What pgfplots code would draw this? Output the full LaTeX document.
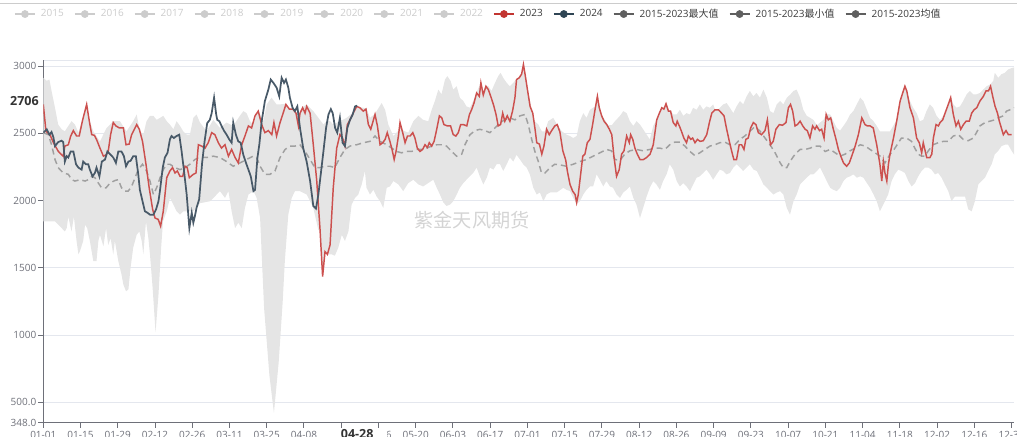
\documentclass[border=0pt]{standalone}
\usepackage{pgfplots}
\pgfplotsset{compat=1.18}
\usepackage{pgfplotstable}
\usepgfplotslibrary{fillbetween}
\usepackage{fontspec}
\setmainfont{Open Sans}
\newfontfamily\cjk{Noto Sans CJK SC}

\definecolor{red23}{RGB}{204,80,78}
\definecolor{dark24}{RGB}{72,89,104}
\definecolor{bandgray}{RGB}{229,229,229}
\definecolor{meangray}{RGB}{160,160,160}
\definecolor{axisgray}{RGB}{110,112,121}
\definecolor{gridgray}{RGB}{228,231,238}
\definecolor{inact}{RGB}{204,204,204}
\definecolor{legtext}{RGB}{60,60,60}
\definecolor{leggray}{RGB}{95,95,95}
\definecolor{leg23}{RGB}{194,53,49}
\definecolor{leg24}{RGB}{47,69,84}
\definecolor{wmark}{RGB}{212,212,212}
\definecolor{ptr}{RGB}{51,51,51}

\pgfplotstableread{
x y
0 2715
1.0 2515
2.5 2490
3.8 2430
5.6 2367
6.9 2340
7.5 2330
8.1 2405
9.4 2415
10.3 2480
11.3 2520
12.5 2480
13.5 2480
14.8 2600
16.3 2715
17.3 2590
18.2 2490
19.2 2485
20.0 2455
21.3 2390
22.6 2330
23.6 2340
24.4 2365
25.3 2490
26.3 2580
27.3 2555
28.6 2540
30.1 2540
31.1 2415
32.3 2420
33.2 2490
35.1 2565
36.1 2530
37.3 2440
38.6 2270
39.8 2095
41.1 1935
42.0 1870
43.2 1860
44.1 1810
45.1 1920
46.4 2170
47.6 2220
48.6 2245
49.5 2205
50.4 2220
51.4 2180
52.4 2180
53.3 2255
54.1 2245
54.9 2170
56.4 2195
57.4 2205
58.3 2415
59.5 2405
60.8 2390
62.0 2430
63.3 2505
64.5 2490
65.8 2430
67.0 2390
68.3 2415
69.6 2330
70.8 2380
72.1 2320
73.3 2280
74.6 2415
75.8 2480
77.1 2555
78.3 2540
79.6 2630
80.8 2665
82.1 2565
83.3 2505
84.6 2520
85.9 2490
86.7 2580
87.7 2480
89.0 2580
90.0 2640
91.2 2715
92.5 2680
93.8 2680
95.0 2650
95.9 2555
96.5 2650
97.5 2690
98.4 2650
99.0 2700
100.3 2650
101.5 2415
102.8 2145
104.0 1795
105.0 1435
105.9 1620
106.8 1600
107.8 1670
109.0 2095
110.3 2390
111.5 2490
112.5 2465
113.4 2405
114.3 2565
115.3 2600
116.5 2650
117.8 2700
119.0 2690
120.3 2665
121.3 2680
122.2 2565
123.1 2530
124.7 2640
125.6 2555
126.6 2415
127.6 2430
128.5 2455
129.3 2505
130.3 2440
131.1 2380
131.9 2305
132.6 2365
133.5 2480
134.1 2580
135.1 2505
136.0 2430
136.9 2480
137.9 2480
138.9 2505
139.7 2465
140.6 2390
141.6 2365
142.6 2380
143.5 2415
144.4 2395
145.1 2430
146.0 2405
146.9 2440
147.9 2530
148.9 2630
149.8 2615
150.6 2565
151.9 2555
153.1 2555
154.1 2490
155.1 2480
156.0 2505
156.9 2565
157.9 2565
159.2 2555
160.2 2640
161.0 2675
161.9 2725
162.9 2800
163.9 2775
164.5 2875
165.4 2785
166.4 2850
167.3 2825
168.2 2775
169.2 2715
170.2 2640
171.0 2555
171.9 2565
172.7 2650
173.5 2590
174.4 2630
175.4 2590
176.4 2665
177.3 2765
177.9 2900
178.9 2913
179.8 2940
180.5 3012
181.1 2940
182.0 2825
183.0 2700
184.0 2650
184.8 2540
185.5 2430
186.5 2420
187.4 2345
188.2 2405
189.2 2530
190.2 2490
191.1 2520
192.3 2555
193.2 2565
194.2 2510
195.3 2370
196.4 2300
197.0 2220
198.0 2120
199.0 2070
199.9 2045
200.5 1985
201.1 2045
202.0 2195
202.8 2330
203.6 2345
204.5 2430
205.5 2455
206.5 2565
207.4 2675
208.3 2775
209.0 2690
209.9 2630
210.8 2590
211.8 2565
212.8 2530
213.7 2490
214.5 2330
215.5 2180
216.5 2230
217.4 2345
218.3 2370
219.3 2480
220.3 2430
220.8 2490
221.6 2455
222.4 2390
223.3 2345
224.3 2305
225.6 2305
226.8 2320
228.1 2345
229.3 2415
230.6 2600
231.6 2650
232.5 2690
233.3 2680
234.1 2720
235.0 2665
235.8 2665
236.8 2580
237.8 2555
238.3 2590
239.1 2555
239.9 2515
240.8 2465
241.8 2430
242.5 2480
243.4 2455
244.1 2465
245.0 2430
245.9 2455
246.9 2440
248.1 2445
249.4 2490
250.4 2580
251.3 2650
252.5 2675
253.8 2675
255.0 2650
255.9 2630
256.9 2530
257.9 2440
258.8 2365
259.6 2305
260.6 2305
261.6 2415
262.5 2415
263.4 2380
264.1 2455
265.0 2465
265.9 2540
266.9 2580
267.9 2565
268.8 2505
270.0 2490
271.3 2520
272.2 2600
272.9 2480
273.4 2415
274.4 2440
275.4 2530
276.7 2565
277.9 2560
279.2 2580
280.1 2690
280.9 2715
281.7 2665
282.6 2555
283.5 2565
284.5 2590
285.5 2555
286.4 2530
287.2 2520
288.2 2465
289.2 2555
290.1 2530
290.7 2555
291.8 2520
292.6 2530
293.5 2465
294.3 2640
295.1 2600
296.0 2615
297.0 2530
298.0 2455
298.9 2380
299.8 2330
300.8 2280
302.0 2255
303.0 2280
303.9 2330
305.2 2405
306.4 2490
307.7 2615
308.9 2565
309.8 2555
310.8 2555
312.0 2540
313.3 2415
314.5 2270
315.2 2145
315.8 2290
316.4 2205
317.1 2145
317.7 2270
318.3 2345
319.6 2465
320.8 2590
322.1 2740
323.3 2815
323.9 2850
324.6 2815
325.8 2690
327.1 2615
328.3 2465
329.3 2430
330.2 2355
330.8 2430
331.5 2370
332.1 2320
333.3 2320
334.0 2345
334.6 2465
335.6 2565
336.5 2555
337.1 2580
338.1 2600
339.0 2650
340.2 2715
341.1 2765
342.1 2640
343.1 2555
344.0 2590
344.9 2530
345.9 2565
346.9 2590
348.1 2590
349.0 2650
349.9 2675
350.9 2690
352.1 2740
353.4 2775
354.4 2815
355.3 2815
356.1 2850
356.9 2775
357.8 2700
358.7 2650
359.4 2590
360.3 2530
360.9 2490
361.9 2520
362.8 2490
364.0 2490
}\yrA

\pgfplotstableread{
x y
0 2505
1.3 2530
2.3 2490
3.1 2510
3.8 2470
4.4 2405
5.6 2435
6.9 2445
7.5 2435
8.1 2290
8.8 2330
9.4 2320
10.3 2365
11.3 2365
12.3 2270
13.2 2245
14.4 2230
15.0 2290
16.0 2270
16.9 2270
17.5 2230
18.5 2180
19.4 2205
20.0 2245
21.1 2180
22.0 2290
23.2 2305
24.1 2365
25.1 2345
26.3 2320
27.3 2280
28.2 2365
29.4 2365
30.3 2330
31.1 2255
32.0 2290
32.8 2295
33.8 2330
34.8 2330
35.7 2195
36.3 2080
37.3 1995
38.2 1920
39.1 1910
40.1 1895
41.4 1895
42.4 1935
43.3 1995
43.9 2080
44.9 2245
45.7 2320
46.7 2355
47.6 2455
48.2 2480
49.1 2465
50.1 2480
51.1 2490
52.0 2365
52.9 2220
53.9 2045
54.9 1795
55.8 1910
56.4 1835
57.0 1885
57.6 1945
58.6 2010
59.7 2280
60.6 2435
61.6 2575
62.6 2600
63.3 2650
64.2 2765
65.0 2640
65.4 2600
66.2 2590
67.0 2555
67.9 2520
68.9 2490
69.9 2455
70.8 2430
71.4 2580
72.4 2490
73.3 2440
74.2 2430
75.2 2340
76.2 2280
77.1 2230
78.0 2180
79.0 2070
79.6 2080
80.5 2320
81.2 2415
82.1 2590
83.3 2740
84.6 2825
85.5 2900
86.5 2875
87.7 2840
88.7 2775
89.6 2913
90.5 2875
91.2 2900
92.1 2840
92.7 2765
93.7 2690
94.6 2665
95.5 2700
96.5 2540
97.7 2390
99.0 2290
100.3 2145
101.5 1960
102.5 1940
103.4 2045
104.3 2195
105.3 2365
106.3 2540
107.2 2640
108.1 2680
108.8 2650
109.7 2540
110.5 2505
111.5 2615
112.5 2430
113.4 2405
114.3 2540
115.3 2600
116.3 2640
117.2 2700
118 2706
}\yrB

\pgfplotstableread{
x y
0 2913
1.3 2890
2.3 2900
3.1 2815
4.4 2690
5.6 2565
6.9 2530
8.1 2515
9.4 2555
10.6 2590
11.9 2565
13.2 2505
14.8 2610
16.3 2720
17.3 2600
18.8 2515
21.3 2440
23.8 2540
26.3 2590
28.8 2590
31.3 2515
33.8 2590
35.1 2640
36.3 2515
37.6 2490
38.8 2590
40.1 2630
41.4 2630
42.6 2600
43.9 2615
45.1 2630
46.4 2590
47.6 2565
48.9 2530
50.1 2590
51.4 2555
52.6 2515
53.9 2490
55.1 2490
56.4 2615
57.6 2640
58.9 2580
61.4 2515
63.9 2600
66.4 2540
68.9 2580
71.4 2555
73.9 2630
75.2 2665
76.4 2650
77.7 2590
78.9 2565
80.8 2675
82.7 2590
84.0 2715
85.8 2765
87.7 2715
89.0 2715
91.2 2720
92.5 2690
95.0 2660
96.5 2650
97.5 2695
99.0 2715
101.5 2665
104.0 2600
105.3 2565
106.5 2590
107.8 2590
109.0 2565
111.5 2590
114.0 2615
116.5 2655
117.8 2705
119.0 2695
121.5 2685
122.8 2615
124.7 2645
125.3 2665
127.2 2725
128.5 2675
129.7 2565
131.6 2480
133.5 2520
134.1 2585
135.3 2520
137.2 2505
139.1 2590
141.0 2630
142.8 2600
144.7 2590
146.0 2675
147.2 2740
148.5 2825
149.7 2790
151.0 2900
151.9 2925
153.1 2890
154.1 2825
155.4 2850
156.6 2765
157.9 2740
159.1 2700
160.4 2690
161.6 2740
162.9 2805
164.5 2880
165.4 2815
166.4 2855
167.3 2850
168.5 2815
169.8 2875
171.0 2925
171.9 2950
172.9 2913
174.2 2875
175.4 2850
176.7 2875
177.9 2905
178.9 2918
179.8 2945
180.5 3017
181.1 2945
182.3 2815
183.6 2675
184.8 2590
186.1 2565
187.4 2515
188.6 2515
189.8 2590
191.7 2615
193.0 2570
194.9 2515
196.7 2490
198.0 2480
199.2 2465
200.5 2480
201.7 2590
203.0 2650
204.2 2615
205.5 2675
207.4 2700
208.3 2780
209.9 2635
211.1 2600
212.4 2560
213.7 2560
214.9 2590
216.8 2630
218.0 2665
219.3 2650
220.5 2590
221.8 2555
223.0 2590
224.3 2565
225.5 2530
226.8 2490
228.0 2455
229.3 2555
230.6 2605
231.6 2655
232.5 2695
233.3 2690
234.1 2725
235.0 2670
235.8 2670
236.8 2640
238.1 2640
239.3 2675
240.6 2630
241.8 2650
243.1 2640
244.3 2690
245.6 2675
246.8 2715
248.1 2675
249.3 2700
250.6 2690
251.8 2715
252.5 2680
253.8 2680
255.6 2715
256.9 2725
258.1 2690
259.4 2650
260.6 2700
261.9 2740
263.1 2715
264.4 2775
265.6 2815
266.9 2775
268.1 2800
269.4 2765
270.7 2825
272.0 2765
273.2 2665
274.5 2650
275.7 2715
277.0 2740
278.2 2715
279.5 2765
280.9 2790
282.0 2815
283.2 2825
284.5 2765
285.7 2675
287.0 2630
288.3 2615
289.5 2600
290.8 2560
292.0 2580
293.3 2600
294.3 2645
295.8 2640
297.0 2590
298.3 2540
299.5 2520
300.8 2555
302.0 2590
303.3 2640
304.5 2665
305.8 2715
307.1 2765
308.3 2740
309.6 2675
310.8 2615
312.1 2590
313.3 2555
314.5 2515
316.4 2515
318.3 2515
319.5 2555
320.8 2600
322.1 2745
323.9 2855
325.8 2740
327.0 2690
328.3 2650
329.5 2590
330.8 2600
332.0 2665
333.3 2715
334.5 2690
335.8 2630
337.1 2600
338.3 2630
339.6 2675
341.1 2770
342.1 2715
343.3 2690
344.6 2700
345.8 2740
347.1 2790
348.3 2815
349.6 2790
350.8 2790
352.1 2800
353.3 2825
354.6 2850
356.1 2865
357.1 2890
357.7 2950
359.0 2913
360.2 2940
361.5 2950
362.7 2975
364.0 2985
365 2990
}\bandmax

\pgfplotstableread{
x y
0 1845
2.5 1845
4.4 1845
6.9 1795
8.1 1770
8.8 1795
9.4 1880
10.6 1770
11.5 1880
12.5 1700
13.2 1600
13.8 1625
15.0 1700
15.7 1820
16.5 1795
17.5 1700
18.8 1550
20.0 1550
20.7 1700
21.3 1745
22.6 1660
23.6 1795
24.4 1670
25.3 1720
26.3 1600
26.9 1700
28.2 1550
29.4 1450
30.1 1375
31.1 1325
32.0 1340
32.8 1500
33.8 1650
35.1 1745
36.1 1770
37.0 1700
37.6 1600
38.6 1845
39.5 1720
40.1 1600
41.1 1350
42.2 1020
43.3 1300
44.3 1650
45.0 1845
46.4 1920
47.6 2020
48.9 1970
50.1 1920
51.4 1895
52.6 1920
53.9 1920
55.1 1920
56.4 1920
57.6 1945
58.9 1980
62.7 1995
65.2 2045
66.4 2070
68.3 2020
69.6 2070
70.8 1920
72.1 1795
73.3 1835
74.6 1795
75.8 1945
77.1 2045
79.0 2070
80.2 2020
81.5 1870
82.1 1600
83.0 1200
85.0 700
86.7 420
88.5 800
90.0 1250
90.8 1550
92.1 1895
93.4 2020
94.6 2070
96.5 2070
99.0 2045
100.3 1995
101.5 1945
103.4 1780
104.0 1780
105.0 1430
105.9 1610
107.1 1600
108.4 1600
109.6 1590
110.9 1650
112.2 1745
113.4 1700
114.7 1770
115.9 1970
117.2 2020
118.4 2045
119.7 2120
120.9 2220
121.5 2095
122.8 2045
124.1 2080
125.3 2030
126.6 1995
127.8 1945
129.1 2095
130.3 2105
131.6 2145
133.5 2120
135.3 2070
137.2 2130
139.1 2155
141.0 2120
142.8 2105
144.7 2130
146.6 2155
147.9 2095
149.1 2045
150.4 1985
151.6 1960
152.9 1970
154.1 1995
155.4 2045
156.6 2095
157.9 2130
159.8 2170
161.6 2205
162.9 2245
164.1 2180
165.4 2120
166.7 2170
167.9 2245
169.2 2230
170.4 2270
171.7 2270
172.9 2220
174.2 2270
175.4 2320
176.7 2290
177.9 2340
179.2 2305
180.4 2270
181.7 2245
182.9 2195
184.2 2095
185.5 2045
186.7 2060
188.0 1995
189.2 2045
190.5 2060
193.0 2060
195.5 2095
196.7 2080
198.0 2070
199.2 2020
200.5 1975
201.7 1995
203.0 2045
204.2 2080
205.5 2105
206.7 2105
208.0 2195
209.2 2155
210.5 2105
211.7 2145
213.0 2105
214.2 2095
215.5 2045
216.8 2020
218.0 2060
219.3 2080
220.5 2105
221.8 2020
223.0 1970
224.3 1870
225.5 1945
226.8 2030
228.0 2095
229.3 2145
230.5 2120
231.8 2080
233.0 2145
234.3 2195
235.5 2270
236.8 2230
238.1 2145
239.3 2105
240.6 2130
241.8 2105
243.1 2070
244.3 2120
245.6 2170
246.8 2180
248.1 2205
249.3 2230
250.6 2195
251.8 2155
253.1 2195
254.3 2230
255.6 2220
256.8 2195
258.1 2205
259.4 2245
260.6 2270
261.9 2245
263.1 2220
264.4 2245
265.6 2270
267.0 2230
268.2 2220
269.5 2170
270.7 2120
272.0 2095
273.2 2070
274.5 2045
275.7 2060
277.0 2070
278.2 2045
279.5 1945
280.7 1895
282.0 1995
283.2 2045
284.5 2120
285.7 2145
287.0 2170
288.3 2195
289.5 2195
290.8 2220
292.0 2245
293.3 2195
294.5 2145
295.8 2095
297.0 2080
298.3 2070
299.5 2095
300.8 2145
302.0 2170
303.3 2180
304.5 2195
305.8 2170
307.1 2180
308.3 2170
309.6 2130
310.8 2095
312.1 2045
313.3 1995
314.5 1920
316.4 1995
317.6 2045
318.9 2145
320.1 2195
321.4 2230
322.6 2220
323.9 2205
325.2 2145
326.4 2105
327.7 2130
328.9 2180
330.2 2220
331.4 2245
332.7 2245
333.9 2230
335.2 2195
336.4 2205
337.7 2170
338.9 2120
340.2 2070
341.4 1995
342.7 2030
343.9 2030
345.2 2030
346.5 2030
347.7 1935
349.0 1920
350.2 1995
351.5 2120
352.7 2145
354.0 2170
355.2 2220
356.5 2270
357.7 2345
359.0 2370
360.2 2405
361.5 2415
362.7 2415
364.0 2370
365 2340
}\bandmin

\pgfplotstableread{
x y
0 2505
1.9 2490
3.1 2415
4.4 2305
5.6 2245
7.5 2205
9.4 2195
10.7 2155
11.9 2145
13.8 2155
15.7 2145
16.9 2155
18.2 2180
19.4 2170
20.7 2130
21.9 2095
23.6 2095
25.1 2130
27.0 2150
28.2 2155
29.4 2095
30.7 2070
31.9 2070
33.2 2105
34.5 2170
35.7 2230
37.3 2270
38.8 2220
40.1 2145
41.4 2045
42.6 2095
43.9 2170
45.1 2230
46.4 2270
47.6 2270
49.5 2245
51.4 2230
53.3 2245
55.1 2270
57.0 2305
58.9 2325
61.4 2320
63.9 2330
66.4 2320
68.9 2290
71.4 2255
73.9 2280
76.4 2305
78.9 2330
80.2 2320
81.5 2255
83.3 2195
85.2 2195
87.1 2220
89.0 2320
90.9 2380
92.7 2405
94.6 2405
96.5 2415
98.4 2365
100.3 2305
102.1 2245
104.0 2245
105.9 2255
107.8 2255
109.6 2245
111.5 2320
113.4 2380
115.3 2405
117.8 2415
120.3 2430
122.8 2440
124.7 2480
126.6 2440
129.1 2415
131.0 2390
132.8 2365
134.7 2355
136.6 2365
138.5 2365
140.3 2380
142.2 2380
144.1 2390
146.0 2405
147.9 2415
149.7 2415
151.6 2405
153.5 2365
155.4 2330
157.3 2345
158.5 2415
160.4 2490
162.3 2520
164.1 2530
166.0 2520
167.9 2505
169.8 2540
171.7 2580
173.5 2600
175.4 2615
177.3 2600
179.2 2630
181.1 2640
182.3 2565
183.6 2455
184.8 2365
186.1 2290
187.3 2205
188.6 2205
190.5 2245
192.3 2270
194.2 2265
196.7 2255
199.2 2270
201.7 2290
204.2 2305
206.7 2330
209.2 2355
211.7 2380
213.6 2370
214.9 2305
216.8 2300
218.6 2345
220.5 2370
223.0 2380
225.5 2370
228.0 2380
229.9 2390
231.8 2390
233.7 2380
235.5 2415
237.4 2435
239.3 2435
241.2 2405
243.1 2365
244.9 2335
246.8 2355
248.7 2380
250.6 2405
252.5 2415
254.3 2430
256.2 2435
258.1 2415
260.0 2415
261.9 2455
263.7 2480
265.6 2515
267.5 2550
269.5 2515
271.3 2465
273.2 2415
275.1 2355
277.0 2280
278.2 2245
279.5 2245
280.7 2290
282.6 2345
284.5 2380
286.4 2380
288.3 2390
290.1 2405
292.0 2405
293.9 2365
295.8 2380
297.7 2355
299.5 2330
301.4 2345
303.3 2370
305.2 2390
307.1 2415
309.0 2405
310.8 2380
312.7 2355
314.6 2330
316.4 2280
318.3 2345
319.5 2370
322.6 2465
324.5 2465
326.4 2440
327.6 2390
328.9 2345
330.2 2330
331.4 2330
332.7 2370
334.5 2415
336.4 2430
338.3 2440
340.2 2440
342.1 2480
344.0 2490
345.8 2455
347.7 2445
349.6 2465
350.8 2505
352.1 2555
354.0 2580
355.8 2590
357.7 2600
359.0 2615
360.9 2630
362.1 2665
363.4 2675
365 2690
}\meanT

\begin{document}
\begin{tikzpicture}
\draw[color=inact, line width=0.9pt] (0pt,324.5pt) -- (762.75pt,324.5pt);
\begin{axis}[
  at={(32.475pt,9.975pt)}, anchor=south west,
  scale only axis, width=728.2pt, height=272pt,
  xmin=0, xmax=365, ymin=348, ymax=3045,
  clip mode=individual,
  axis lines=left, axis line style={-, color=axisgray, line width=0.75pt},
  tick align=outside, major tick length=3.75pt,
  tick style={color=axisgray, line width=0.75pt},
  xtick={0,14,...,364},
  xticklabels={01-01,01-15,01-29,02-12,02-26,03-11,03-25,04-08,04-22,05-06,05-20,06-03,06-17,07-01,07-15,07-29,08-12,08-26,09-09,09-23,10-07,10-21,11-04,11-18,12-02,12-16,12-30},
  ytick={348,500,1000,1500,2000,2500,3000},
  yticklabels={348.0,500.0,1000,1500,2000,2500,3000},
  extra y ticks={3045}, extra y tick labels={},
  extra y tick style={major tick length=0pt, grid=major},
  ymajorgrids, grid style={color=gridgray, line width=0.75pt},
  ticklabel style={font=\fontsize{7.5}{9}\selectfont, color=axisgray},
  xticklabel style={yshift=0.6pt},
  yticklabel style={xshift=2pt},
  legend columns=-1,
  legend style={draw=none, fill=none, inner sep=0pt, outer sep=0pt,
    at={(-0.0302,1.1268)}, anchor=west,
    font=\fontsize{7.5}{9}\selectfont, text=legtext,
    nodes={inner sep=0pt},
    /tikz/every odd column/.append style={column sep=3.75pt},
    /tikz/every even column/.append style={column sep=7.5pt}},
  legend image code/.code={\draw[#1, line width=1.5pt] (0pt,0pt) -- (15pt,0pt); \fill[#1] (7.5pt,0pt) circle (2.7pt);},
]
\addplot[name path=bmax, draw=none, forget plot] table {\bandmax};
\addplot[name path=bmin, draw=none, forget plot] table {\bandmin};
\addplot[bandgray, forget plot] fill between[of=bmax and bmin];

\node[text=wmark, font=\fontsize{14.4}{16}\selectfont] at (axis cs:161.2,1855) {\cjk 紫金天风期货};

\addplot[meangray, line width=1.1pt, dash pattern=on 4.5pt off 3pt, forget plot] table {\meanT};
\addplot[red23, line width=1.1pt, forget plot] table {\yrA};
\addplot[dark24, line width=1.3pt, forget plot] table {\yrB};

\addlegendimage{color=inact}\addlegendentry{\textcolor{inact}{2015}}
\addlegendimage{color=inact}\addlegendentry{\textcolor{inact}{2016}}
\addlegendimage{color=inact}\addlegendentry{\textcolor{inact}{2017}}
\addlegendimage{color=inact}\addlegendentry{\textcolor{inact}{2018}}
\addlegendimage{color=inact}\addlegendentry{\textcolor{inact}{2019}}
\addlegendimage{color=inact}\addlegendentry{\textcolor{inact}{2020}}
\addlegendimage{color=inact}\addlegendentry{\textcolor{inact}{2021}}
\addlegendimage{color=inact}\addlegendentry{\textcolor{inact}{2022}}
\addlegendimage{color=leg23}\addlegendentry{2023}
\addlegendimage{color=leg24}\addlegendentry{2024}
\addlegendimage{color=leggray}\addlegendentry{2015-2023{\cjk 最大值}}
\addlegendimage{color=leggray}\addlegendentry{2015-2023{\cjk 最小值}}
\addlegendimage{color=leggray}\addlegendentry{2015-2023{\cjk 均值}}

\node[fill=white, text=ptr, font=\bfseries\fontsize{9.4}{11}\selectfont, minimum width=45pt, inner ysep=1.5pt, anchor=north] at (axis cs:118,348) [yshift=-3.5pt] {04-28};
\node[fill=white, text=ptr, font=\bfseries\fontsize{9.4}{11}\selectfont, inner xsep=2pt, inner ysep=2pt, anchor=east] at (axis cs:0,2740) [xshift=-1.2pt] {2706};
\end{axis}
\pgfresetboundingbox
\path[use as bounding box] (0pt,0pt) rectangle (762.75pt,327pt);
\end{tikzpicture}
\end{document}
